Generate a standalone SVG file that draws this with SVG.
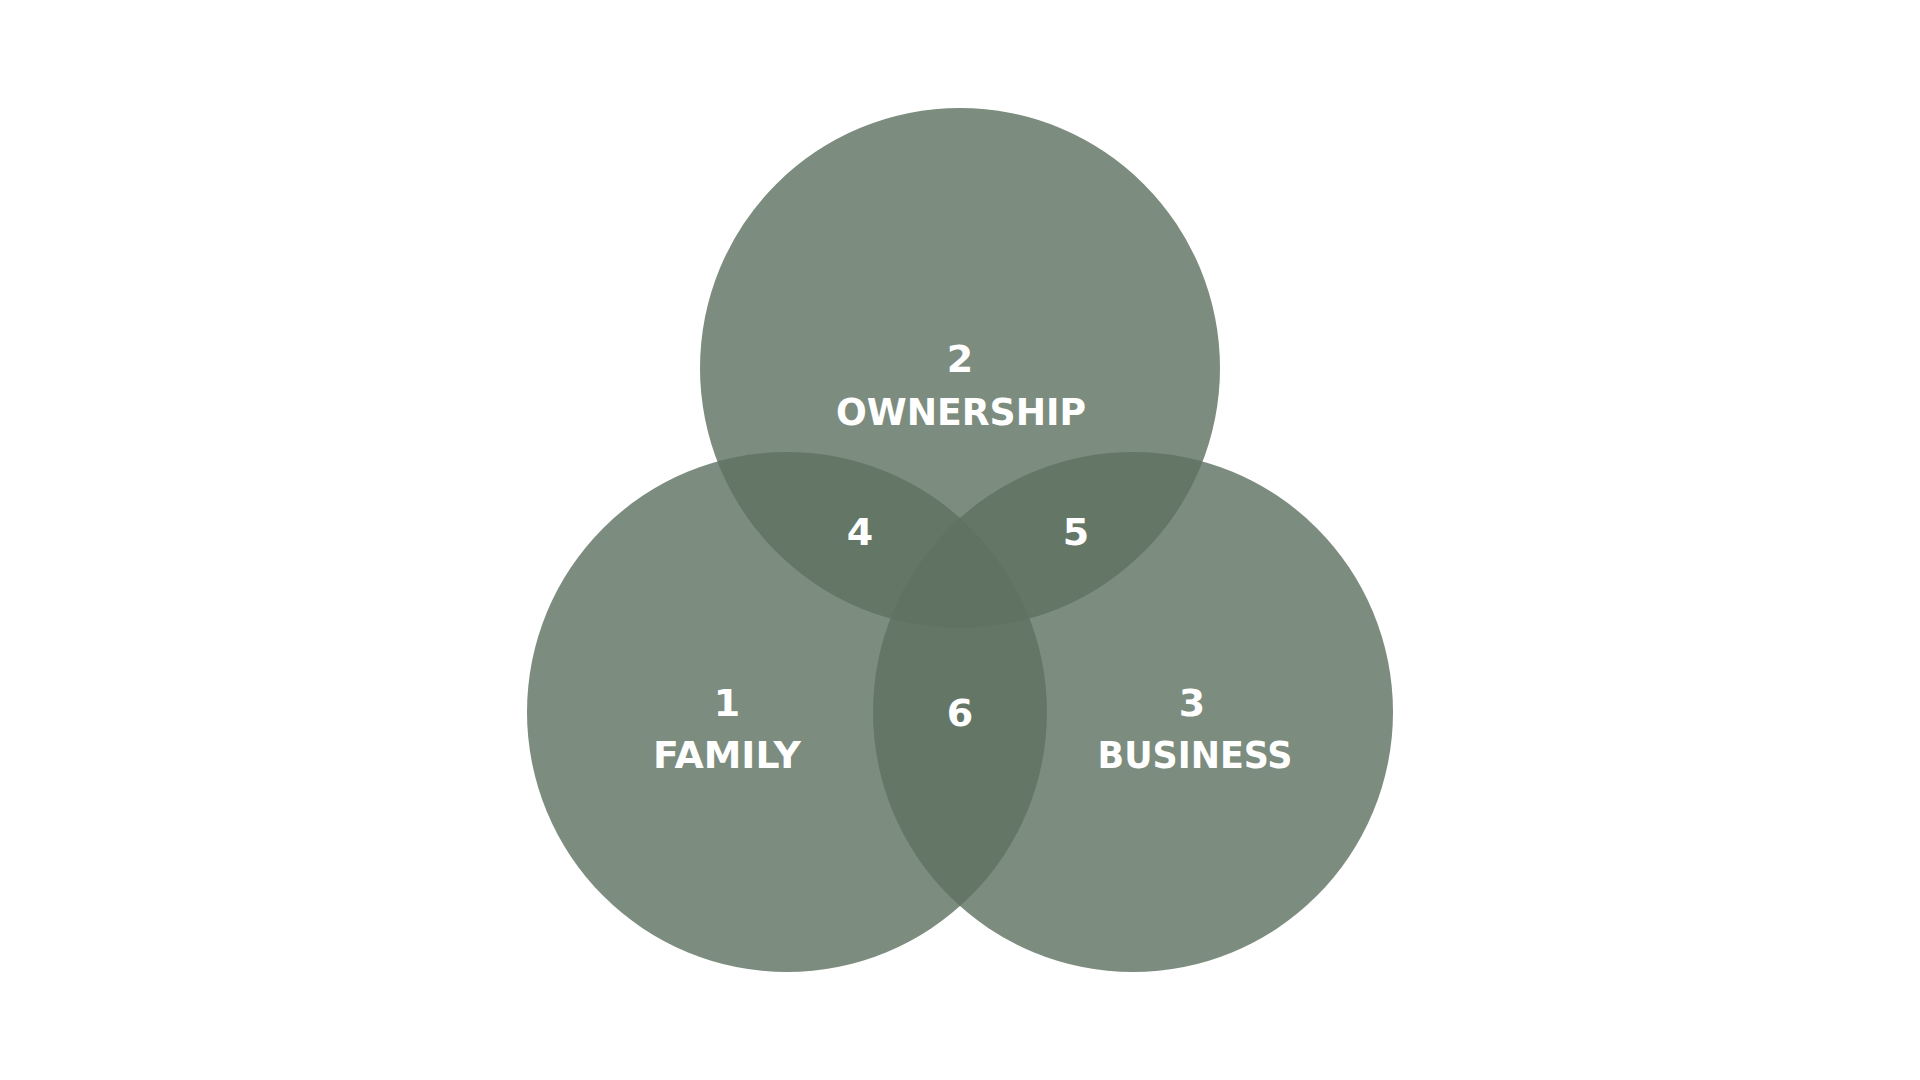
<svg xmlns="http://www.w3.org/2000/svg" width="1920" height="1080" viewBox="0 0 1920 1080">
<style>
.c{fill:#5f7361;fill-opacity:0.82}
.t{font-family:"DejaVu Sans","Liberation Sans",sans-serif;font-weight:700;fill:#ffffff;text-anchor:middle}
.n{font-size:38px}
.l{font-size:38px}
</style>
<rect width="1920" height="1080" fill="#ffffff"/>
<g id="circle-ownership"><circle class="c" cx="960" cy="368" r="260"/></g>
<g id="circle-family"><circle class="c" cx="787" cy="712" r="260"/></g>
<g id="circle-business"><circle class="c" cx="1133" cy="712" r="260"/></g>
<g id="labels">
<g id="node-2"><text class="t n" x="960" y="372">2</text><text class="t l" x="961" y="425" textLength="250" lengthAdjust="spacingAndGlyphs">OWNERSHIP</text></g>
<g id="node-1"><text class="t n" x="727" y="716">1</text><text class="t l" x="727" y="768" textLength="148" lengthAdjust="spacingAndGlyphs">FAMILY</text></g>
<g id="node-3"><text class="t n" x="1192" y="716">3</text><text class="t l" x="1195" y="768" textLength="195" lengthAdjust="spacingAndGlyphs">BUSINESS</text></g>
<g id="node-4"><text class="t n" x="860" y="545">4</text></g>
<g id="node-5"><text class="t n" x="1076" y="545">5</text></g>
<g id="node-6"><text class="t n" x="960" y="726">6</text></g>
</g>
<g id="connectors"/>
</svg>
